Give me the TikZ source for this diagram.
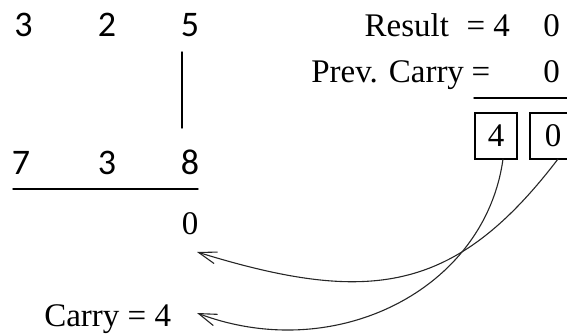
\documentclass[tikz,border=0pt]{standalone}
\usepackage{fontspec}
\setmainfont{Liberation Serif}
\newfontfamily\digitfont{Carlito}
\usetikzlibrary{arrows.meta,calc}
\tikzset{
    sum/diagram/.style={
        x=0.5pt, y=-0.5pt,
        line width=0.6pt,
        line cap=round,
        every node/.style={inner sep=0pt, outer sep=0pt}
    },
    sum/text/.style={font=\fontsize{16.5}{19}\selectfont, anchor=base},
    sum/digit/.style={font=\digitfont\fontsize{18}{21}\selectfont, anchor=base},
    sum/rule/.style={draw=black, line width=0.7pt},
    sum/cell/.style={
        draw=black, line width=0.6pt,
        minimum width=21pt, minimum height=23pt,
        font=\fontsize{16.5}{19}\selectfont
    },
    sum/carry/.style={
        draw=black!85, line width=0.55pt,
        -{Straight Barb[length=9pt, width=6pt]}
    }
}

\begin{document}
\begin{tikzpicture}[sum/diagram]
    \useasboundingbox (0,0) rectangle (567,335);
    \clip (0,0) rectangle (567,335);
    % operands
    \node[sum/digit] (a3) at (23.5,37) {3};
    \node[sum/digit] (a2) at (107,37) {2};
    \node[sum/digit] (a5) at (190,37) {5};
    \node[sum/digit] (b7) at (21,175) {7};
    \node[sum/digit] (b3) at (107,175) {3};
    \node[sum/digit] (b8) at (190,175) {8};
    \draw[sum/rule] (182,52) -- (182,128);
    \draw[sum/rule] (13,189) -- (198,189);
    \node[sum/text] (sum0) at (190,235) {0};
    \node[sum/text, anchor=base east] (carry) at (171,327) {Carry = 4};
    % result side
    \node[sum/text, anchor=base east] (result) at (449,37) {Result};
    \node[sum/text] (resEq) at (476,37) {=};
    \node[sum/text] (res4) at (501.5,37) {4};
    \node[sum/text] (res0) at (551.5,37) {0};
    \node[sum/text, anchor=base east] (prev) at (464,83) {Prev. Carry};
    \node[sum/text] (prevEq) at (481,83) {=};
    \node[sum/text] (prev0) at (551.5,83) {0};
    \draw[sum/rule] (474,98) -- (567,98);
    \node[sum/cell] (box4) at (496,136) {4};
    \node[sum/cell, minimum width=23pt] (box0) at (553,136) {0};
    % carries back to the left
    \coordinate (tip0) at (197,252);
    \coordinate (tip4) at (197,313);
    \draw[sum/carry] ([xshift=2.5pt]box0.south)
        .. controls (455,294) and (369,305) .. (tip0);
    \draw[sum/carry] ([xshift=3.5pt]box4.south)
        .. controls (485,290) and (335,365) .. (tip4);
\end{tikzpicture}
\end{document}
